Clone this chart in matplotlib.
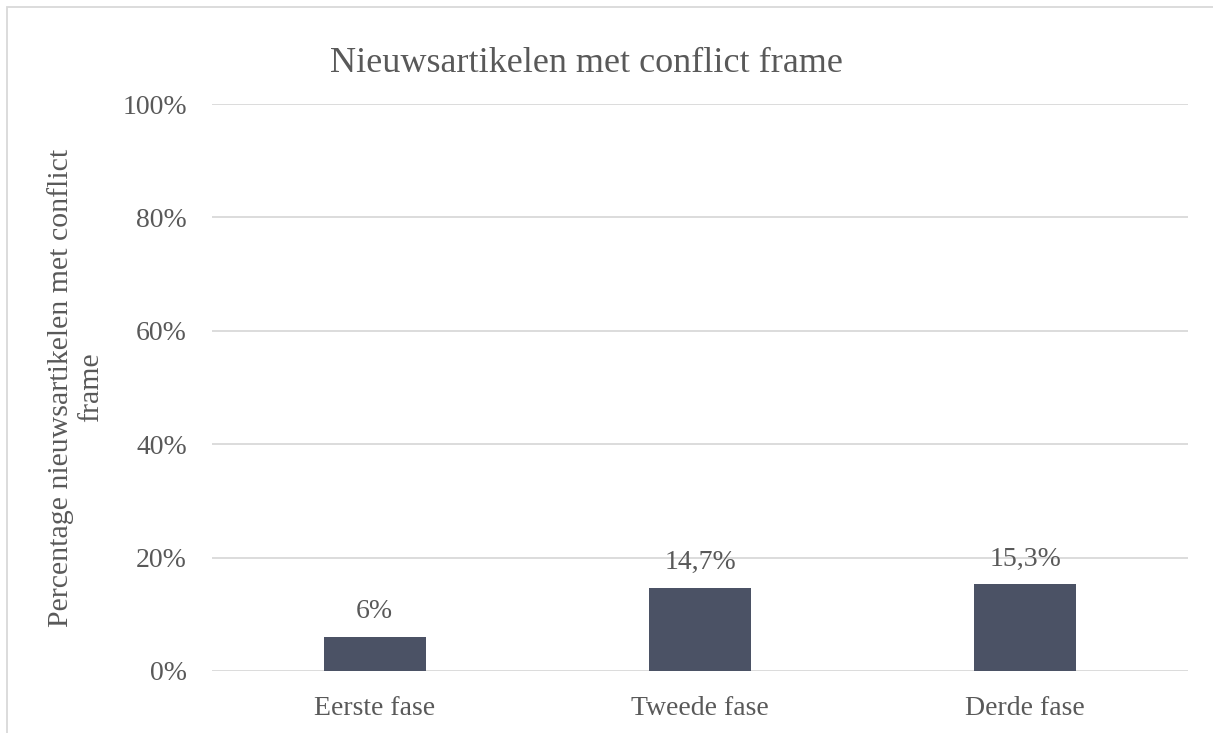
import matplotlib
matplotlib.use('Agg')
import matplotlib.pyplot as plt
from matplotlib.patches import Rectangle
from matplotlib.ticker import FuncFormatter

categories = ["Eerste fase", "Tweede fase", "Derde fase"]
values = [6.0, 14.7, 15.3]
labels = ["6%", "14,7%", "15,3%"]

plt.rcParams['font.family'] = ['Liberation Serif', 'DejaVu Serif']
grey = '#595959'

fig = plt.figure(figsize=(12.13, 7.33), dpi=100)
ax = fig.add_axes([212/1213, 62/733, 976/1213, 567/733])

x = range(len(categories))
bars = ax.bar(x, values, width=0.313, color='#4B5265', zorder=3)
for b, lab in zip(bars, labels):
    ax.annotate(lab, (b.get_x() + b.get_width()/2, b.get_height()), xytext=(0, 9),
                textcoords='offset points', ha='center', va='bottom', fontsize=20, color=grey)

ax.set_xlim(-0.5, 2.5)
ax.set_ylim(0, 100)
ax.set_yticks(range(0, 101, 20))
ax.yaxis.set_major_formatter(FuncFormatter(lambda v, p: f"{v:.0f}%"))
ax.set_xticks(list(x))
ax.set_xticklabels(categories)
ax.tick_params(length=0, labelsize=20, labelcolor=grey)
ax.tick_params(axis='y', pad=18)
ax.tick_params(axis='x', pad=18)
ax.grid(axis='y', color='#D9D9D9', linewidth=1.3, zorder=0)
for s in ax.spines.values():
    s.set_visible(False)

ax.set_ylabel("Percentage nieuwsartikelen met conflict\nframe", fontsize=21.5, color=grey,
              labelpad=13, linespacing=1.2)
fig.text(586/1213, 1 - 63/733, "Nieuwsartikelen met conflict frame", ha='center', va='center',
         fontsize=26, color=grey)

fig.patches.append(Rectangle((7/1213, -0.01), 1.0, 1 - 7/733 + 0.01, transform=fig.transFigure,
                             fill=False, edgecolor='#D9D9D9', linewidth=1.3))

fig.savefig("out.png", dpi=100)
